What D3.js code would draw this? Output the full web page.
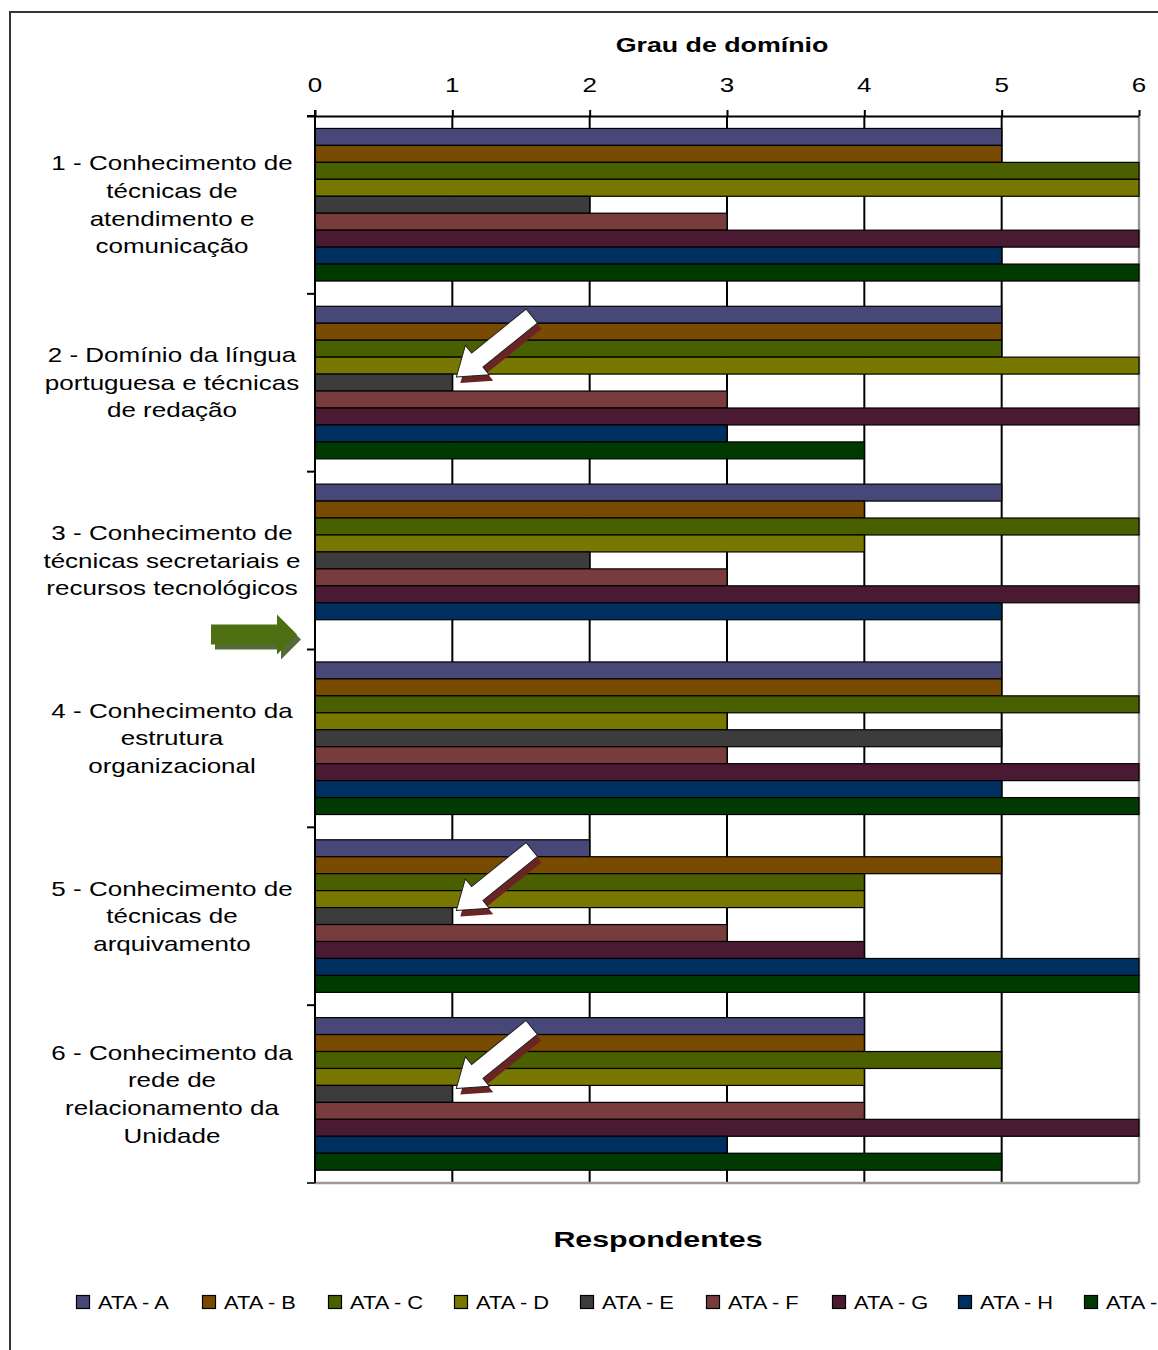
<!DOCTYPE html>
<html lang="pt">
<head>
<meta charset="utf-8">
<script src="https://cdn.jsdelivr.net/npm/d3@7"></script>
<style>
  html, body { margin: 0; padding: 0; background: #fff; }
  svg { display: block; font-family: "Liberation Sans", Arial, sans-serif; }
</style>
</head>
<body>
<svg id="chart" width="1158" height="1350"></svg>
<script>
// Competências avaliadas (uma linha de texto por elemento)
const categories = [
  ["1 - Conhecimento de", "técnicas de", "atendimento e", "comunicação"],
  ["2 - Domínio da língua", "portuguesa e técnicas", "de redação"],
  ["3 - Conhecimento de", "técnicas secretariais e", "recursos tecnológicos"],
  ["4 - Conhecimento da", "estrutura", "organizacional"],
  ["5 - Conhecimento de", "técnicas de", "arquivamento"],
  ["6 - Conhecimento da", "rede de", "relacionamento da", "Unidade"]
];

const seriesNames = ["ATA - A", "ATA - B", "ATA - C", "ATA - D", "ATA - E",
                     "ATA - F", "ATA - G", "ATA - H", "ATA - I"];

const seriesColors = ["#484878", "#784b00", "#4a6000", "#787800", "#3c3c3c",
                      "#783c3c", "#4a1932", "#003060", "#003a00"];

// Grau de domínio por respondente (linhas = competências, colunas = ATA A..I)
const values = [
  [5, 5, 6, 6, 2, 3, 6, 5, 6],
  [5, 5, 5, 6, 1, 3, 6, 3, 4],
  [5, 4, 6, 4, 2, 3, 6, 5, null],
  [5, 5, 6, 3, 5, 3, 6, 5, 6],
  [2, 5, 4, 4, 1, 3, 4, 6, 6],
  [4, 4, 5, 4, 1, 4, 6, 3, 5]
];

const tickValues = [0, 1, 2, 3, 4, 5, 6];

// Destaques: setas brancas nas barras de ATA - E das competências 2, 5 e 6
const highlightedBars = [
  { category: 1, series: 4 },
  { category: 4, series: 4 },
  { category: 5, series: 4 }
];
// Seta verde à esquerda, antes da competência 4
const markedCategory = 3;

const svg = d3.select("#chart");
const W = 1158, H = 1350;
const STRETCH = 1.3; // texto levemente alargado na horizontal

svg.append("rect").attr("width", W).attr("height", H).attr("fill", "#fff");
// moldura externa da área do gráfico
svg.append("rect")
  .attr("x", 10).attr("y", 12).attr("width", 1180).attr("height", 1360)
  .attr("fill", "none").attr("stroke", "#333").attr("stroke-width", 2);

const plot = { left: 315, right: 1139, top: 116, bottom: 1183 };

const x = d3.scaleLinear().domain([0, 6]).range([plot.left, plot.right]);
const y = d3.scaleBand().domain(d3.range(categories.length))
  .range([plot.top, plot.bottom]).paddingInner(0).paddingOuter(0);
const bw = y.bandwidth();
const inner = d3.scaleBand().domain(d3.range(seriesNames.length))
  .range([bw * 0.07, bw * 0.928]).padding(0);

// linhas de grade verticais
const grid = svg.append("g");
grid.selectAll("line").data(tickValues.filter(v => v > 0 && v < 6)).join("line")
  .attr("x1", d => x(d)).attr("x2", d => x(d))
  .attr("y1", plot.top).attr("y2", plot.bottom)
  .attr("stroke", "#000").attr("stroke-width", 2);
// borda direita / inferior da área de plotagem
svg.append("line").attr("x1", x(6)).attr("x2", x(6))
  .attr("y1", plot.top).attr("y2", plot.bottom)
  .attr("stroke", "#9a9a9a").attr("stroke-width", 2.5);
svg.append("line").attr("x1", plot.left).attr("x2", x(6))
  .attr("y1", plot.bottom).attr("y2", plot.bottom)
  .attr("stroke", "#9a9a9a").attr("stroke-width", 2.5);

// barras
const groups = svg.append("g").selectAll("g").data(values).join("g")
  .attr("transform", (d, i) => `translate(0,${y(i)})`);
groups.selectAll("rect")
  .data(row => row.map((v, s) => ({ v, s })).filter(d => d.v != null && d.v > 0))
  .join("rect")
  .attr("x", x(0))
  .attr("y", d => inner(d.s))
  .attr("width", d => x(d.v) - x(0))
  .attr("height", inner.bandwidth())
  .attr("fill", d => seriesColors[d.s])
  .attr("stroke", "#000").attr("stroke-width", 1.2);

// eixo superior (valores)
const xAxis = d3.axisTop(x).tickValues(tickValues).tickSize(6).tickFormat("");
svg.append("g").attr("transform", `translate(0,${plot.top})`).call(xAxis)
  .call(g => g.select(".domain").attr("d", `M${plot.left - 8},0.5H${plot.right}`)
    .attr("stroke", "#000").attr("stroke-width", 2))
  .call(g => g.selectAll(".tick line").attr("stroke", "#000").attr("stroke-width", 2));

svg.append("g").selectAll("text").data(tickValues).join("text")
  .attr("transform", d => `translate(${x(d)},92) scale(${STRETCH},1)`)
  .attr("text-anchor", "middle").attr("font-size", 20).attr("fill", "#000")
  .text(d => d);

// eixo das categorias
const yAxis = d3.axisLeft(y).tickSize(8).tickFormat("");
svg.append("g").attr("transform", `translate(${plot.left},0)`).call(yAxis)
  .call(g => g.select(".domain").attr("d", `M0,${plot.top - 6}V${plot.bottom}`)
    .attr("stroke", "#000").attr("stroke-width", 2))
  .call(g => g.selectAll(".tick").attr("transform", d => `translate(0,${y(d)})`))
  .call(g => g.selectAll(".tick line").attr("stroke", "#000").attr("stroke-width", 2));
// marca final do eixo
svg.append("line").attr("x1", plot.left - 8).attr("x2", plot.left)
  .attr("y1", plot.bottom).attr("y2", plot.bottom)
  .attr("stroke", "#333").attr("stroke-width", 2);

// rótulos das competências
const lineH = 27.7;
const labels = svg.append("g").selectAll("g").data(categories).join("g")
  .attr("transform", (d, i) => `translate(172,${y(i) + bw / 2})`);
labels.selectAll("text").data(d => d.map((t, k) => ({ t, k, n: d.length }))).join("text")
  .attr("transform", d => `translate(0,${(d.k - (d.n - 1) / 2) * lineH + 7}) scale(${STRETCH},1)`)
  .attr("text-anchor", "middle").attr("font-size", 20).attr("fill", "#000")
  .text(d => d.t);

// títulos
svg.append("text")
  .attr("transform", `translate(722,52) scale(1.34,1)`)
  .attr("text-anchor", "middle").attr("font-size", 20).attr("font-weight", "bold")
  .text("Grau de domínio");
svg.append("text")
  .attr("transform", `translate(658,1247) scale(1.38,1)`)
  .attr("text-anchor", "middle").attr("font-size", 22).attr("font-weight", "bold")
  .text("Respondentes");

// legenda (a última entrada fica rente à borda direita)
const legend = svg.append("g").selectAll("g").data(seriesNames).join("g")
  .attr("transform", (d, i) => `translate(${76 + i * 126},1302)`);
legend.append("rect")
  .attr("x", 0.5).attr("y", -6.5).attr("width", 13).attr("height", 13)
  .attr("fill", (d, i) => seriesColors[i]).attr("stroke", "#000").attr("stroke-width", 1.2);
legend.append("text")
  .attr("transform", "translate(22,7) scale(1.18,1)")
  .attr("font-size", 18.5).attr("fill", "#000")
  .text(d => d);

// setas brancas de destaque (ponta no fim da barra)
const arrowShape = (L, Lh, Wh, Ws) =>
  `M0,0 L${-Lh},${-Wh} L${-Lh},${-Ws} L${-L},${-Ws} L${-L},${Ws} L${-Lh},${Ws} L${-Lh},${Wh} Z`;
const whiteArrow = arrowShape(97, 27, 19, 9);
const arrows = svg.append("g").selectAll("g").data(highlightedBars).join("g")
  .attr("transform", d => {
    const v = values[d.category][d.series];
    const tx = x(v) + 4, ty = y(d.category) + inner(d.series) + 3;
    return `translate(${tx},${ty}) rotate(141)`;
  });
arrows.append("path").attr("d", whiteArrow)
  .attr("transform", "rotate(-141) translate(4,6) rotate(141)")
  .attr("fill", "#6b2424");
arrows.append("path").attr("d", whiteArrow)
  .attr("fill", "#fff").attr("stroke", "#222").attr("stroke-width", 1);

// seta verde apontando para a competência marcada
const greenArrow = arrowShape(86, 20, 20, 10);
const ga = svg.append("g")
  .attr("transform", `translate(${plot.left - 18},${y(markedCategory) - 15})`);
ga.append("path").attr("d", greenArrow).attr("transform", "translate(4,5)").attr("fill", "#566a38");
ga.append("path").attr("d", greenArrow).attr("fill", "#4e6e12");
</script>
</body>
</html>
